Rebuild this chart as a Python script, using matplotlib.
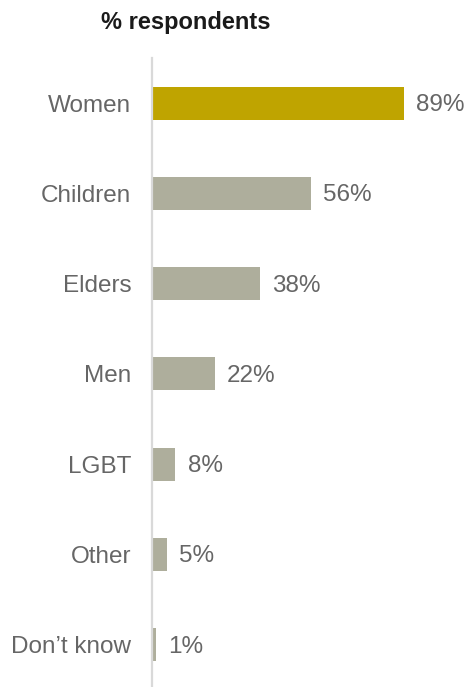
import matplotlib
matplotlib.use("Agg")
import matplotlib.pyplot as plt

categories = ["Women", "Children", "Elders", "Men", "LGBT", "Other", "Don\u2019t know"]
values = [89, 56, 38, 22, 8, 5, 1]
highlight = "Women"

gold = "#BFA400"
grey = "#AEAE9C"
text_grey = "#666666"

plt.rcParams["font.family"] = ["Liberation Sans", "DejaVu Sans"]

fig = plt.figure(figsize=(4.66, 6.87), dpi=100)
ax = fig.add_axes([152 / 466, 0.0, 282 / 466, (687 - 58) / 687])

ypos = list(range(len(categories)))
colors = [gold if c == highlight else grey for c in categories]
ax.barh(ypos, values, height=0.366, color=colors, left=0.3)

ax.set_xlim(0, 100)
ax.set_ylim(6.47, -0.5)

for y, v in zip(ypos, values):
    ax.annotate(f"{v}%", xy=(v, y), xytext=(9.5, -1.5), textcoords="offset points",
                ha="left", va="center", fontsize=17.5, color=text_grey,
                annotation_clip=False)

ax.set_yticks(ypos)
ax.set_yticklabels(categories, fontsize=17.5, color=text_grey)
ax.tick_params(axis="y", length=0, pad=15)
ax.set_xticks([])

for side in ["top", "right", "bottom"]:
    ax.spines[side].set_visible(False)
ax.spines["left"].set_color("#D9D9D9")
ax.spines["left"].set_linewidth(1.6)

fig.text(185.5 / 466, 1 - 22 / 687, "% respondents", ha="center", va="center",
         fontsize=17, fontweight="bold", color="#1A1A1A")

fig.savefig("out.png", dpi=100, facecolor="white")
